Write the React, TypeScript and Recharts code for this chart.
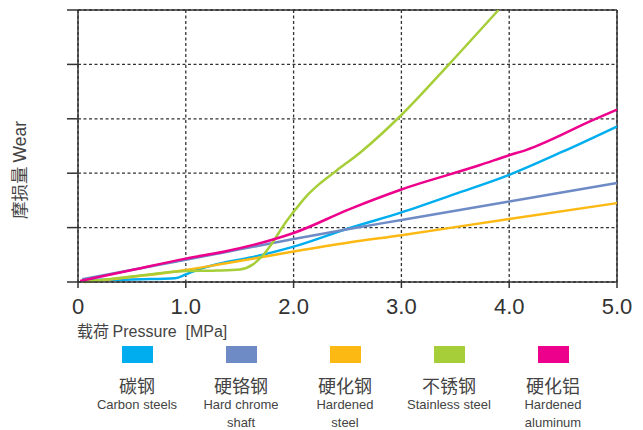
import { LineChart, Line, XAxis, YAxis, CartesianGrid, ReferenceLine } from 'recharts';

const pressureTicks = [0, 1, 2, 3, 4, 5];
const wearTicks = [0, 1, 2, 3, 4, 5];

const carbonX = [0.04, 0.3, 0.6, 0.9, 1.0, 1.1, 1.3, 1.6, 2.0, 2.5, 3.0, 3.5, 4.0, 4.5, 5.0];
const carbonY = [0.04, 0.04, 0.05, 0.07, 0.14, 0.22, 0.33, 0.45, 0.65, 0.98, 1.28, 1.62, 1.97, 2.4, 2.86];

const chromeX = [0.04, 1.0, 1.5, 2.0, 2.5, 3.0, 4.0, 5.0];
const chromeY = [0.05, 0.41, 0.6, 0.79, 0.97, 1.14, 1.48, 1.82];

const hardSteelX = [0.06, 1.0, 1.36, 2.0, 2.5, 3.0, 4.0, 5.0];
const hardSteelY = [0.0, 0.22, 0.34, 0.56, 0.72, 0.86, 1.16, 1.45];

const stainlessX = [0.06, 0.5, 1.0, 1.3, 1.5, 1.62, 1.72, 1.81, 1.9, 2.0, 2.12, 2.25, 2.4, 2.63, 3.0, 3.45, 3.9];
const stainlessY = [0.0, 0.1, 0.2, 0.21, 0.23, 0.32, 0.5, 0.74, 1.02, 1.29, 1.58, 1.82, 2.05, 2.4, 3.07, 4.02, 5.0];

const aluminumX = [0.02, 0.5, 1.0, 1.36, 1.81, 2.0, 2.52, 3.0, 3.73, 4.0, 4.16, 4.78, 5.0];
const aluminumY = [0.02, 0.22, 0.43, 0.56, 0.78, 0.9, 1.34, 1.7, 2.15, 2.33, 2.43, 2.98, 3.17];

const zhLabels = ['碳钢', '硬铬钢', '硬化钢', '不锈钢', '硬化铝'];
const enLabels = [['Carbon steels'], ['Hard chrome', 'shaft'], ['Hardened', 'steel'], ['Stainless steel'], ['Hardened', 'aluminum']];
const colors = ['#00aeef', '#6e8bc6', '#fdb913', '#a6ce39', '#ec008c'];

const toPoints = (xs: number[], ys: number[]) => xs.map((x, i) => ({ x, y: ys[i] }));

const series = [
  toPoints(carbonX, carbonY),
  toPoints(chromeX, chromeY),
  toPoints(hardSteelX, hardSteelY),
  toPoints(stainlessX, stainlessY),
  toPoints(aluminumX, aluminumY),
];

const latin = '"Liberation Sans", Arial, sans-serif';
const cjk = '"Noto Sans CJK SC", "Liberation Sans", sans-serif';
const axisColor = '#333';

export default function App() {
  return (
    <div style={{ position: 'absolute', left: 0, top: 0, width: 643, height: 430, background: '#fff', fontFamily: latin }}>
      <LineChart width={643} height={345} margin={{ top: 10, right: 26, bottom: 23, left: 0 }} data={series[0]}>
        <CartesianGrid stroke={axisColor} strokeWidth={1.3} strokeDasharray="3 2.5" />
        <XAxis
          type="number"
          dataKey="x"
          domain={[0, 5]}
          ticks={pressureTicks}
          tickFormatter={(v: number) => (v === 0 ? '0' : v.toFixed(1))}
          height={40}
          tickSize={6}
          tickMargin={10}
          stroke={axisColor}
          strokeWidth={1.5}
          tick={{ fill: '#333', fontSize: 22, fontFamily: latin }}
        />
        <YAxis
          type="number"
          domain={[0, 5]}
          ticks={wearTicks}
          width={78}
          tickFormatter={() => ''}
          tickSize={11}
          stroke={axisColor}
          strokeWidth={1.5}
        />
        {/* solid frame on top and right */}
        <ReferenceLine y={5} stroke={axisColor} strokeWidth={1.5} ifOverflow="visible" />
        <ReferenceLine x={5} stroke={axisColor} strokeWidth={1.5} ifOverflow="visible" />
        {series.map((pts, i) => (
          <Line
            key={zhLabels[i]}
            data={pts}
            dataKey="y"
            type="monotone"
            stroke={colors[i]}
            strokeWidth={2.5}
            dot={false}
            activeDot={false}
            isAnimationActive={false}
          />
        ))}
      </LineChart>

      <div
        style={{
          position: 'absolute',
          left: 77,
          top: 320,
          fontSize: 16,
          color: '#444',
          fontFamily: cjk,
          whiteSpace: 'pre',
          lineHeight: '20px',
        }}
      >
        载荷 <span style={{ fontFamily: latin }}>Pressure  [MPa]</span>
      </div>

      <div
        style={{
          position: 'absolute',
          left: 19,
          top: 170,
          transform: 'translate(-50%, -50%) rotate(-90deg)',
          fontSize: 17.5,
          color: '#444',
          fontFamily: cjk,
          whiteSpace: 'pre',
          lineHeight: '20px',
        }}
      >
        摩损量 <span style={{ fontFamily: latin }}>Wear</span>
      </div>

      <div style={{ position: 'absolute', left: 85, top: 346, display: 'flex' }}>
        {zhLabels.map((zh, i) => (
          <div key={zh} style={{ width: 104, display: 'flex', flexDirection: 'column', alignItems: 'center' }}>
            <div style={{ width: 31, height: 17, background: colors[i] }} />
            <div style={{ marginTop: 11, fontSize: 18, lineHeight: '22px', color: '#444', fontFamily: cjk }}>{zh}</div>
            {enLabels[i].map((t) => (
              <div key={t} style={{ fontSize: 13, lineHeight: '18px', color: '#444', textAlign: 'center' }}>
                {t}
              </div>
            ))}
          </div>
        ))}
      </div>
    </div>
  );
}
